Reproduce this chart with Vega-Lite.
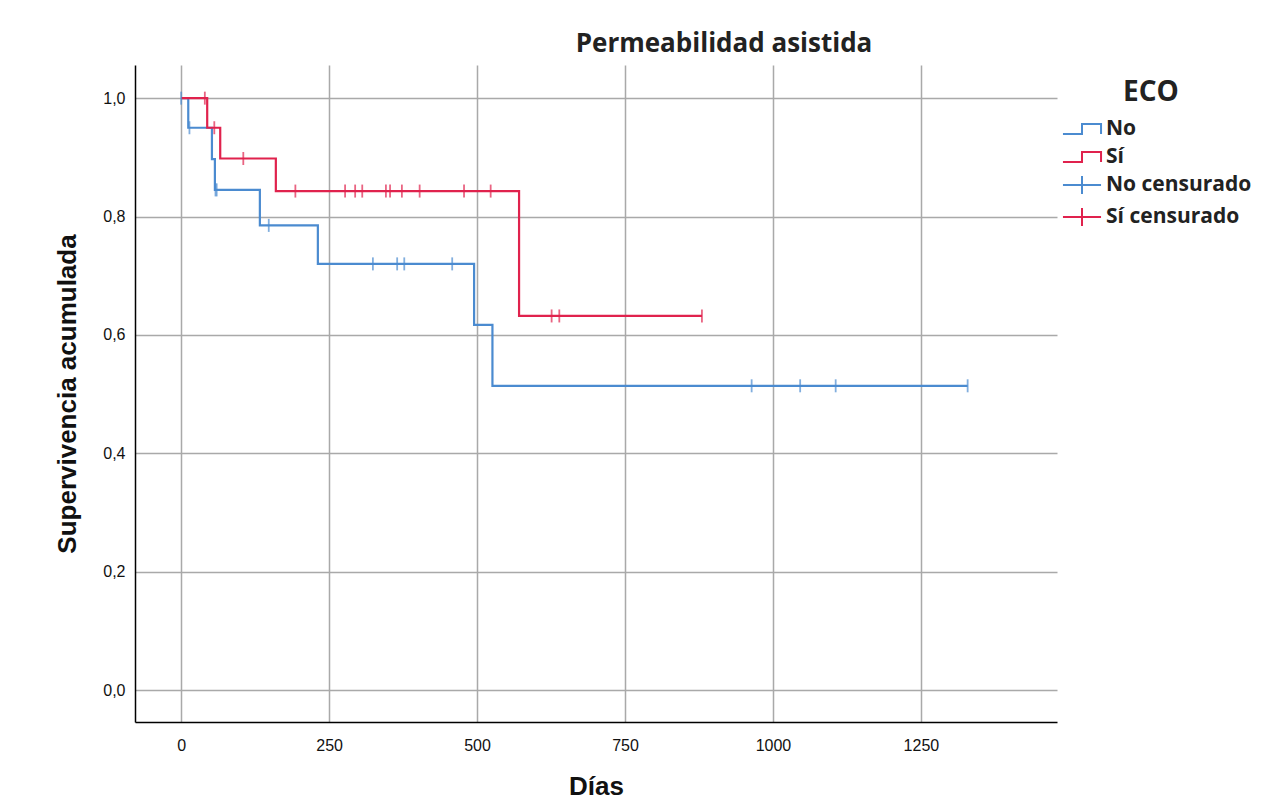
{
  "$schema": "https://vega.github.io/schema/vega-lite/v6.json",
  "width": 922,
  "height": 657,
  "autosize": {"type": "none"},
  "padding": {"left": 135, "top": 65, "right": 224, "bottom": 90},
  "background": "white",
  "title": {
    "text": "Permeabilidad asistida",
    "anchor": "middle",
    "dx": 128,
    "offset": 8,
    "font": "Open Sans",
    "fontSize": 26,
    "fontWeight": "bold",
    "color": "#222222"
  },
  "config": {
    "view": {"stroke": null},
    "axis": {
      "domainColor": "#000000",
      "domainWidth": 1.5,
      "ticks": false,
      "gridColor": "#a9a9a9",
      "gridWidth": 1.5,
      "gridOpacity": 1,
      "labelFont": "Liberation Sans",
      "labelFontSize": 16,
      "labelColor": "#111111",
      "titleFont": "Liberation Sans",
      "titleFontSize": 26,
      "titleFontWeight": "bold",
      "titleColor": "#111111"
    }
  },
  "datasets": {
    "curvas": [
      {"dias": 0, "surv": 1.0, "serie": "No"},
      {"dias": 12, "surv": 0.95, "serie": "No"},
      {"dias": 52, "surv": 0.897, "serie": "No"},
      {"dias": 57, "surv": 0.845, "serie": "No"},
      {"dias": 133, "surv": 0.785, "serie": "No"},
      {"dias": 231, "surv": 0.72, "serie": "No"},
      {"dias": 495, "surv": 0.617, "serie": "No"},
      {"dias": 526, "surv": 0.514, "serie": "No"},
      {"dias": 1329, "surv": 0.514, "serie": "No"},
      {"dias": 0, "surv": 1.0, "serie": "Sí"},
      {"dias": 44, "surv": 0.95, "serie": "Sí"},
      {"dias": 66, "surv": 0.898, "serie": "Sí"},
      {"dias": 160, "surv": 0.843, "serie": "Sí"},
      {"dias": 571, "surv": 0.632, "serie": "Sí"},
      {"dias": 880, "surv": 0.632, "serie": "Sí"}
    ],
    "censuras": [
      {"dias": 0, "surv": 1.0, "serie": "No censurado"},
      {"dias": 14, "surv": 0.95, "serie": "No censurado"},
      {"dias": 58, "surv": 0.845, "serie": "No censurado"},
      {"dias": 60, "surv": 0.845, "serie": "No censurado"},
      {"dias": 148, "surv": 0.785, "serie": "No censurado"},
      {"dias": 324, "surv": 0.72, "serie": "No censurado"},
      {"dias": 365, "surv": 0.72, "serie": "No censurado"},
      {"dias": 377, "surv": 0.72, "serie": "No censurado"},
      {"dias": 458, "surv": 0.72, "serie": "No censurado"},
      {"dias": 964, "surv": 0.514, "serie": "No censurado"},
      {"dias": 1046, "surv": 0.514, "serie": "No censurado"},
      {"dias": 1106, "surv": 0.514, "serie": "No censurado"},
      {"dias": 1329, "surv": 0.514, "serie": "No censurado"},
      {"dias": 40, "surv": 1.0, "serie": "Sí censurado"},
      {"dias": 56, "surv": 0.95, "serie": "Sí censurado"},
      {"dias": 105, "surv": 0.898, "serie": "Sí censurado"},
      {"dias": 193, "surv": 0.843, "serie": "Sí censurado"},
      {"dias": 277, "surv": 0.843, "serie": "Sí censurado"},
      {"dias": 294, "surv": 0.843, "serie": "Sí censurado"},
      {"dias": 306, "surv": 0.843, "serie": "Sí censurado"},
      {"dias": 346, "surv": 0.843, "serie": "Sí censurado"},
      {"dias": 353, "surv": 0.843, "serie": "Sí censurado"},
      {"dias": 373, "surv": 0.843, "serie": "Sí censurado"},
      {"dias": 403, "surv": 0.843, "serie": "Sí censurado"},
      {"dias": 478, "surv": 0.843, "serie": "Sí censurado"},
      {"dias": 523, "surv": 0.843, "serie": "Sí censurado"},
      {"dias": 626, "surv": 0.632, "serie": "Sí censurado"},
      {"dias": 639, "surv": 0.632, "serie": "Sí censurado"},
      {"dias": 880, "surv": 0.632, "serie": "Sí censurado"}
    ]
  },
  "encoding": {
    "x": {
      "field": "dias",
      "type": "quantitative",
      "title": "Días",
      "scale": {"domain": [-78, 1480], "nice": false, "zero": false},
      "axis": {
        "values": [0, 250, 500, 750, 1000, 1250],
        "format": "d",
        "labelPadding": 15,
        "titlePadding": 20,
        "grid": true
      }
    },
    "y": {
      "field": "surv",
      "type": "quantitative",
      "title": "Supervivencia acumulada",
      "scale": {"domain": [-0.054, 1.056], "nice": false, "zero": false},
      "axis": {
        "values": [0, 0.2, 0.4, 0.6, 0.8, 1.0],
        "labelExpr": "replace(format(datum.value, '.1f'), '.', ',')",
        "labelPadding": 10,
        "titlePadding": 22,
        "grid": true
      }
    },
    "color": {
      "field": "serie",
      "type": "nominal",
      "scale": {
        "domain": ["No", "Sí", "No censurado", "Sí censurado"],
        "range": ["#4b8bd0", "#e0224d", "#4b8bd0", "#e0224d"]
      },
      "legend": {
        "title": "ECO",
        "orient": "none",
        "legendX": 932,
        "legendY": 14,
        "titleFont": "Open Sans",
        "titleFontSize": 28,
        "titleFontWeight": "bold",
        "titleColor": "#222222",
        "titleAnchor": "middle",
        "titlePadding": 7,
        "labelFont": "Open Sans",
        "labelFontSize": 21,
        "labelFontWeight": "bold",
        "labelColor": "#222222",
        "labelOffset": 9,
        "symbolSize": 784,
        "symbolStrokeWidth": 2,
        "symbolFillColor": "transparent",
        "rowPadding": 3,
        "encode": {
          "title": {"update": {"dx": {"value": -8}}},
          "symbols": {
            "update": {
              "shape": {"signal": "indexof(['No','Sí'], datum.value) >= 0 ? 'M-1.36,0.36H0V-0.36H1.36V0.36' : 'M-1.36,0H1.36M0,-0.65V0.65'"},
              "stroke": {"scale": "color", "field": "value"},
              "fill": {"value": "transparent"},
              "fillOpacity": {"value": 0},
              "strokeWidth": {"value": 2}
            }
          }
        }
      }
    }
  },
  "layer": [
    {
      "data": {"name": "curvas"},
      "mark": {"type": "line", "interpolate": "step-after", "strokeWidth": 2.2, "clip": true},
      "encoding": {"detail": {"field": "serie"}}
    },
    {
      "data": {"name": "censuras"},
      "mark": {"type": "tick", "orient": "vertical", "size": 13, "thickness": 1.8}
    }
  ]
}
